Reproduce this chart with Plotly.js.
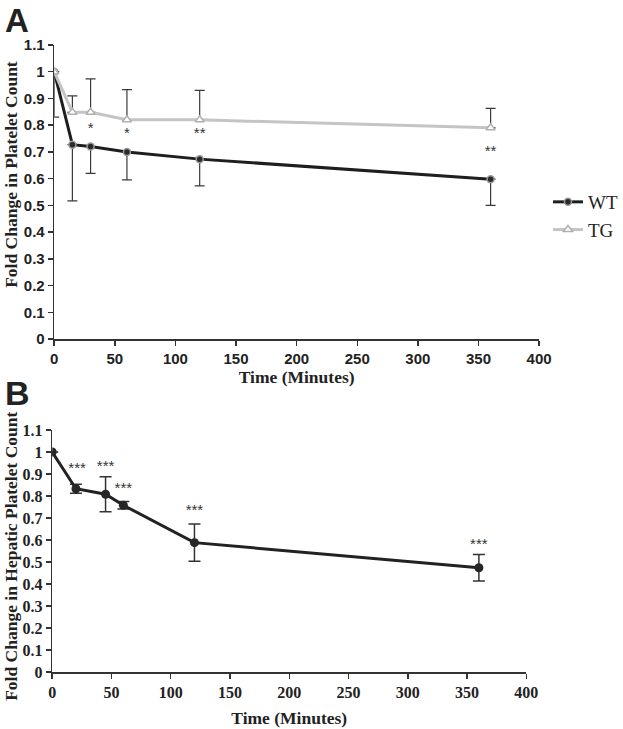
<!DOCTYPE html>
<html>
<head>
<meta charset="utf-8">
<script src="https://cdn.plot.ly/plotly-3.0.1.min.js"></script>
<style>html,body{margin:0;padding:0;background:#fff;}#chart{width:623px;height:729px;}</style>
</head>
<body>
<div id="chart"></div>
<script>
// Panel A: fold change in platelet count
const timeA = [0, 15, 30, 60, 120, 360];
const wtA = [1.0, 0.727, 0.72, 0.70, 0.673, 0.598];
const wtA_errMinus = [0.17, 0.21, 0.10, 0.105, 0.10, 0.098];
const tgA = [1.0, 0.848, 0.848, 0.82, 0.82, 0.79];
const tgA_errPlus = [0, 0.062, 0.125, 0.113, 0.11, 0.073];
const starsA_x = [30, 60, 120, 360];
const starsA_y = [0.785, 0.765, 0.765, 0.70];
const starsA_text = ['*', '*', '**', '**'];

// Panel B: fold change in hepatic platelet count
const timeB = [0, 20, 45, 60, 120, 360];
const hepB = [1.0, 0.833, 0.808, 0.758, 0.588, 0.474];
const hepB_err = [0, 0.02, 0.08, 0.017, 0.085, 0.06];
const starsB_x = [21, 45, 60, 120, 360];
const starsB_y = [0.92, 0.93, 0.832, 0.73, 0.575];
const starsB_text = ['***', '***', '***', '***', '***'];

const xTicks = [0, 50, 100, 150, 200, 250, 300, 350, 400];
const yTicks = [0, 0.1, 0.2, 0.3, 0.4, 0.5, 0.6, 0.7, 0.8, 0.9, 1, 1.1];

const W = 623, H = 729;
const px = v => v / W;
const py = v => 1 - v / H;

const serif = 'Liberation Serif, Times New Roman, serif';
const sans = 'Liberation Sans, Arial, sans-serif';

const traces = [
  {
    x: timeA, y: wtA, name: 'WT', type: 'scatter', mode: 'lines+markers',
    xaxis: 'x', yaxis: 'y',
    line: {color: '#1e1e1e', width: 3},
    marker: {symbol: 'circle', size: 7, color: '#2a2a2a', line: {color: '#9a9a9a', width: 1.5}},
    error_y: {type: 'data', symmetric: false, array: timeA.map(() => 0), arrayminus: wtA_errMinus,
              color: '#3a3a3a', thickness: 1.2, width: 5}
  },
  {
    x: timeA, y: tgA, name: 'TG', type: 'scatter', mode: 'lines+markers',
    xaxis: 'x', yaxis: 'y',
    line: {color: '#c4c4c4', width: 3},
    marker: {symbol: 'triangle-up', size: 8, color: '#ffffff', line: {color: '#b0b0b0', width: 1.5}},
    error_y: {type: 'data', symmetric: false, array: tgA_errPlus, arrayminus: timeA.map(() => 0),
              color: '#3a3a3a', thickness: 1.2, width: 5}
  },
  {
    x: starsA_x, y: starsA_y, text: starsA_text, type: 'scatter', mode: 'text',
    xaxis: 'x', yaxis: 'y', showlegend: false, hoverinfo: 'skip',
    textfont: {family: sans, size: 15, color: '#333'}
  },
  {
    x: timeB, y: hepB, name: 'Hepatic', type: 'scatter', mode: 'lines+markers',
    xaxis: 'x2', yaxis: 'y2', showlegend: false,
    line: {color: '#222222', width: 3},
    marker: {symbol: 'circle', size: 9, color: '#262626'},
    error_y: {type: 'data', array: hepB_err, color: '#333333', thickness: 1.5, width: 6}
  },
  {
    x: starsB_x, y: starsB_y, text: starsB_text, type: 'scatter', mode: 'text',
    xaxis: 'x2', yaxis: 'y2', showlegend: false, hoverinfo: 'skip',
    textfont: {family: sans, size: 15, color: '#333'}
  }
];

const axisCommon = {
  showgrid: false, zeroline: false, showline: true, linecolor: '#333', linewidth: 1.5,
  ticks: 'outside', ticklen: 5, tickwidth: 1.5, tickcolor: '#333', fixedrange: true
};

const titleFont = {family: serif, size: 17.5, weight: 'bold', color: '#222'};

const layout = {
  width: W, height: H,
  margin: {l: 0, r: 0, t: 0, b: 0},
  paper_bgcolor: '#fff', plot_bgcolor: '#fff',
  showlegend: true,
  legend: {x: px(556), y: py(183), xanchor: 'left', yanchor: 'top',
           font: {family: serif, size: 19, color: '#222'}, tracegroupgap: 6,
           bgcolor: 'rgba(0,0,0,0)'},
  xaxis: Object.assign({}, axisCommon, {
    domain: [px(55), px(547)], range: [0, 400], anchor: 'y',
    tickvals: xTicks, ticktext: xTicks.map(String),
    tickfont: {family: sans, size: 15, weight: 'bold', color: '#222'},
    title: {text: 'Time (Minutes)', font: titleFont, standoff: 4}
  }),
  yaxis: Object.assign({}, axisCommon, {
    domain: [py(339), py(45)], range: [0, 1.1], anchor: 'x',
    tickvals: yTicks, ticktext: yTicks.map(String),
    tickfont: {family: sans, size: 15, weight: 'bold', color: '#222'}
  }),
  xaxis2: Object.assign({}, axisCommon, {
    domain: [px(53), px(534)], range: [0, 400], anchor: 'y2',
    tickvals: xTicks, ticktext: xTicks.map(String),
    tickfont: {family: serif, size: 16, weight: 'bold', color: '#222'},
    title: {text: 'Time (Minutes)', font: titleFont, standoff: 12}
  }),
  yaxis2: Object.assign({}, axisCommon, {
    domain: [py(672), py(430)], range: [0, 1.1], anchor: 'x2',
    tickvals: yTicks, ticktext: yTicks.map(String),
    tickfont: {family: serif, size: 16, weight: 'bold', color: '#222'}
  }),
  annotations: [
    {text: 'Fold Change in Platelet Count', textangle: -90, xref: 'paper', yref: 'paper',
     x: px(11), y: py(174), xanchor: 'center', yanchor: 'middle', showarrow: false, font: titleFont},
    {text: 'Fold Change in Hepatic Platelet Count', textangle: -90, xref: 'paper', yref: 'paper',
     x: px(11), y: py(556), xanchor: 'center', yanchor: 'middle', showarrow: false, font: titleFont},
    {text: 'A', xref: 'paper', yref: 'paper', x: px(3), y: 1, xanchor: 'left', yanchor: 'top',
     showarrow: false, font: {family: sans, size: 33, weight: 'bold', color: '#222'}},
    {text: 'B', xref: 'paper', yref: 'paper', x: px(3), y: py(372), xanchor: 'left', yanchor: 'top',
     showarrow: false, font: {family: sans, size: 34, weight: 'bold', color: '#222'}}
  ]
};

Plotly.newPlot('chart', traces, layout, {displayModeBar: false, staticPlot: true});
</script>
</body>
</html>
